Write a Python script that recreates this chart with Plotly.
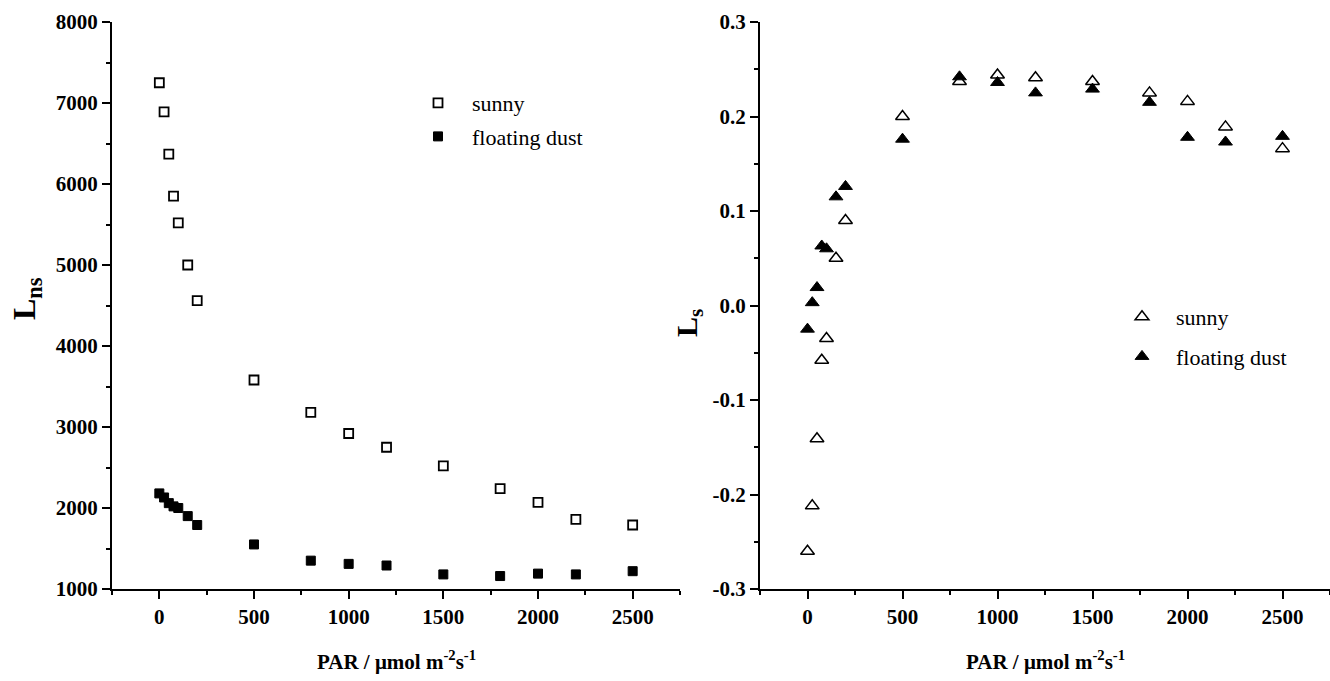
import plotly.graph_objects as go

# PAR levels (µmol m-2 s-1)
par = [0, 25, 50, 75, 100, 150, 200, 500, 800, 1000, 1200, 1500, 1800, 2000, 2200, 2500]

# L_ns for the two weather conditions
lns_sunny = [7250, 6890, 6370, 5850, 5520, 5000, 4560, 3580, 3180, 2920, 2750, 2520, 2240, 2070, 1860, 1790]
lns_dust = [2180, 2130, 2060, 2020, 2000, 1900, 1790, 1550, 1350, 1310, 1290, 1180, 1160, 1190, 1180, 1220]

# L_s for the two weather conditions
ls_sunny = [-0.260, -0.212, -0.141, -0.058, -0.035, 0.050, 0.090, 0.200, 0.237, 0.244, 0.241, 0.237, 0.225, 0.216, 0.189, 0.166]
ls_dust = [-0.025, 0.003, 0.019, 0.063, 0.060, 0.115, 0.126, 0.176, 0.242, 0.236, 0.225, 0.229, 0.215, 0.178, 0.173, 0.179]

series_names = ["sunny", "floating dust"]

x_ticks = [0, 500, 1000, 1500, 2000, 2500]
lns_ticks = [1000, 2000, 3000, 4000, 5000, 6000, 7000, 8000]
ls_ticks = [-0.3, -0.2, -0.1, 0.0, 0.1, 0.2, 0.3]
ls_tick_labels = ["-0.3", "-0.2", "-0.1", "0.0", "0.1", "0.2", "0.3"]

x_title = "PAR / μmol m<sup>-2</sup>s<sup>-1</sup>"

W, H = 1330, 681
SERIF = "Liberation Serif"

fig = go.Figure()

fig.add_trace(go.Scatter(
    x=par, y=lns_sunny, mode="markers", name=series_names[0],
    marker=dict(symbol="square-open", size=9, color="black", line=dict(width=1.8, color="black")),
    xaxis="x", yaxis="y", legend="legend", legendgroup="a",
))
fig.add_trace(go.Scatter(
    x=par, y=lns_dust, mode="markers", name=series_names[1],
    marker=dict(symbol="square", size=9, color="black", line=dict(width=1, color="black")),
    xaxis="x", yaxis="y", legend="legend", legendgroup="b",
))
fig.add_trace(go.Scatter(
    x=par, y=ls_sunny, mode="markers", name=series_names[0],
    marker=dict(symbol="triangle-up-open", size=12, color="black", line=dict(width=1.5, color="black")),
    xaxis="x2", yaxis="y2", legend="legend2", legendgroup="c",
))
fig.add_trace(go.Scatter(
    x=par, y=ls_dust, mode="markers", name=series_names[1],
    marker=dict(symbol="triangle-up", size=12, color="black", line=dict(width=1, color="black")),
    xaxis="x2", yaxis="y2", legend="legend2", legendgroup="d",
))

tick_font = dict(family=SERIF, size=21, color="black", weight="bold")

common_axis = dict(
    showline=True, linecolor="black", linewidth=2,
    ticks="outside", ticklen=8, tickwidth=2, tickcolor="black",
    showgrid=False, zeroline=False, tickfont=tick_font, automargin=False,
)

y_dom = [1 - 589 / H, 1 - 22 / H]

fig.update_layout(
    width=W, height=H,
    margin=dict(l=0, r=0, t=0, b=0, autoexpand=False),
    paper_bgcolor="white", plot_bgcolor="white",
    xaxis=dict(domain=[112 / W, 680 / W], range=[-250, 2750], tickvals=x_ticks,
               minor=dict(ticks="outside", ticklen=4, tickwidth=2, tickcolor="black", dtick=250),
               anchor="y", **common_axis),
    yaxis=dict(domain=y_dom, range=[1000, 8000], tickvals=lns_ticks,
               minor=dict(ticks="outside", ticklen=4, tickwidth=2, tickcolor="black", dtick=500),
               anchor="x", **common_axis),
    xaxis2=dict(domain=[760 / W, 1.0], range=[-250, 2750], tickvals=x_ticks,
                minor=dict(ticks="outside", ticklen=4, tickwidth=2, tickcolor="black", dtick=250),
                anchor="y2", **common_axis),
    yaxis2=dict(domain=y_dom, range=[-0.3, 0.3], tickvals=ls_ticks, ticktext=ls_tick_labels,
                minor=dict(ticks="outside", ticklen=4, tickwidth=2, tickcolor="black", dtick=0.05),
                anchor="x2", **common_axis),
    legend=dict(x=404 / W, y=1 - 82 / H, xanchor="left", yanchor="top",
                bgcolor="rgba(0,0,0,0)", itemwidth=58, tracegroupgap=2,
                font=dict(family=SERIF, size=22, color="black")),
    legend2=dict(x=1108 / W, y=1 - 296 / H, xanchor="left", yanchor="top",
                 bgcolor="rgba(0,0,0,0)", itemwidth=58, tracegroupgap=8,
                 font=dict(family=SERIF, size=22, color="black")),
    annotations=[
        dict(text="L<sub>ns</sub>", x=26 / W, y=1 - 299 / H, xref="paper", yref="paper",
             textangle=-90, showarrow=False, xanchor="center", yanchor="middle",
             font=dict(family=SERIF, size=32, color="black", weight="bold")),
        dict(text="L<sub>s</sub>", x=689 / W, y=1 - 323 / H, xref="paper", yref="paper",
             textangle=-90, showarrow=False, xanchor="center", yanchor="middle",
             font=dict(family=SERIF, size=30, color="black", weight="bold")),
        dict(text=x_title, x=396 / W, y=1 - 660 / H, xref="paper", yref="paper",
             showarrow=False, xanchor="center", yanchor="middle",
             font=dict(family=SERIF, size=21, color="black", weight="bold")),
        dict(text=x_title, x=1045 / W, y=1 - 660 / H, xref="paper", yref="paper",
             showarrow=False, xanchor="center", yanchor="middle",
             font=dict(family=SERIF, size=21, color="black", weight="bold")),
    ],
)

fig.write_html("out.html")
